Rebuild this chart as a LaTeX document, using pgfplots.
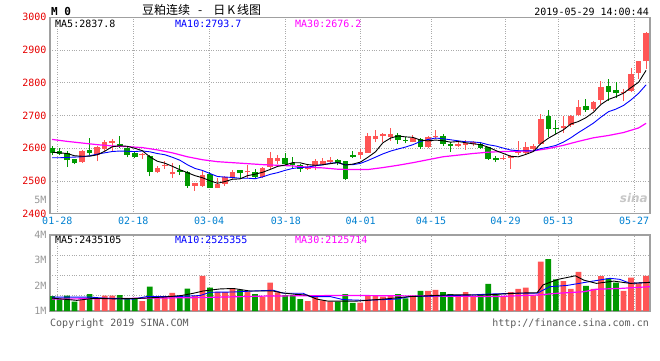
\documentclass[border=0pt]{standalone}
\usepackage{pgfplots}
\pgfplotsset{compat=1.18}
\usepackage{pgfplotstable}
\usepackage{fontspec}
\setmainfont{DejaVu Sans Mono}
\newfontfamily\cjk{Noto Sans CJK SC}
\newfontfamily\dsans{DejaVu Sans}
\definecolor{cred}{RGB}{255,85,85}
\definecolor{cgreen}{RGB}{0,153,0}
\definecolor{framec}{RGB}{160,160,160}
\definecolor{gridc}{RGB}{170,170,170}
\definecolor{tickred}{RGB}{230,0,0}
\definecolor{dateblue}{RGB}{0,128,208}
\definecolor{mag}{RGB}{255,0,255}
\definecolor{lblgray}{RGB}{150,150,150}
\definecolor{footgray}{RGB}{90,90,90}

% red (rising) candles: index open high low close
\pgfplotstableread{
i o h l c
4 2557 2594 2555 2592
6 2578 2608 2560 2603
7 2598 2625 2593 2618
8 2616 2628 2593 2623
12 2578 2585 2568 2581
14 2526 2546 2524 2539
15 2545 2560 2537 2550
16 2520 2555 2508 2526
19 2486 2495 2470 2493
20 2486 2533 2483 2518
22 2480 2508 2478 2490
23 2491 2516 2486 2511
24 2508 2533 2506 2528
26 2526 2548 2508 2530
28 2512 2543 2508 2540
29 2543 2588 2538 2571
30 2562 2578 2553 2570
34 2538 2553 2533 2543
35 2545 2568 2533 2560
36 2553 2570 2548 2560
37 2558 2573 2553 2563
41 2578 2598 2568 2590
42 2586 2646 2586 2637
43 2628 2655 2618 2638
44 2636 2648 2618 2645
45 2634 2663 2623 2644
48 2620 2640 2618 2630
50 2603 2636 2600 2633
51 2634 2655 2628 2636
54 2608 2623 2603 2613
55 2611 2625 2596 2615
56 2613 2621 2608 2618
60 2567 2578 2563 2570
61 2570 2578 2538 2575
62 2586 2623 2578 2593
63 2585 2620 2583 2605
64 2598 2613 2592 2607
65 2612 2705 2610 2690
68 2661 2697 2646 2668
69 2671 2702 2666 2697
70 2702 2748 2697 2727
72 2720 2745 2715 2741
73 2748 2806 2735 2787
76 2768 2781 2745 2770
77 2775 2846 2771 2827
78 2829 2867 2812 2867
79 2865 2956 2842 2951
}\redtab

% green (falling) candles
\pgfplotstableread{
i o h l c
0 2601 2608 2578 2586
1 2593 2600 2578 2583
2 2586 2591 2542 2563
3 2566 2568 2551 2554
5 2595 2631 2578 2587
9 2614 2636 2601 2606
10 2600 2608 2572 2580
11 2585 2590 2570 2573
13 2575 2580 2514 2529
17 2534 2550 2518 2528
18 2528 2530 2480 2485
21 2521 2526 2478 2480
25 2535 2535 2508 2523
27 2529 2538 2508 2512
31 2571 2585 2548 2551
32 2556 2573 2538 2548
33 2550 2553 2528 2538
38 2564 2568 2548 2556
39 2560 2561 2503 2505
40 2579 2592 2570 2574
46 2640 2648 2613 2624
47 2626 2633 2615 2623
49 2628 2630 2598 2603
52 2636 2643 2608 2613
53 2613 2620 2590 2608
57 2613 2618 2598 2602
58 2603 2605 2565 2568
59 2570 2576 2558 2563
66 2697 2717 2633 2658
67 2660 2687 2645 2658
71 2730 2751 2712 2717
74 2790 2812 2745 2773
75 2778 2801 2753 2770
}\greentab

% price moving averages
\pgfplotstableread{
i ma5 ma10
0 2588 2571
1 2586 2571
2 2584 2572
3 2577 2573
4 2575.6 2574
5 2575.8 2577
6 2579.8 2582
7 2590.8 2586
8 2604.6 2590
9 2607.4 2591.5
10 2606 2590.9
11 2600 2589.9
12 2592.6 2591.7
13 2573.8 2589.2
14 2560.4 2583.9
15 2554.4 2580.2
16 2545 2572.5
17 2534.4 2563.5
18 2525.6 2549.7
19 2516.4 2538.4
20 2510 2532.2
21 2500.8 2522.9
22 2493.2 2513.8
23 2498.4 2512
24 2505.4 2510.9
25 2506.4 2508.2
26 2516.4 2508.6
27 2520.8 2507
28 2526.6 2512.5
29 2535.2 2520.3
30 2544.6 2525.5
31 2548.8 2532.6
32 2556 2538.4
33 2555.6 2541.1
34 2550 2542.6
35 2548 2546.3
36 2549.8 2549.3
37 2552.8 2554.4
38 2556.4 2556
39 2548.8 2549.4
40 2551.6 2549.8
41 2557.6 2553.7
42 2572.4 2562.6
43 2588.8 2572.6
44 2616.8 2582.8
45 2630.8 2591.2
46 2637.6 2597.6
47 2634.8 2603.6
48 2633.2 2611
49 2624.8 2620.8
50 2622.6 2626.7
51 2625 2631.3
52 2623 2628.9
53 2618.6 2625.9
54 2620.6 2622.7
55 2617 2619.8
56 2613.4 2619.2
57 2611.2 2617.1
58 2603.2 2610.9
59 2593.2 2606.9
60 2584.2 2600.6
61 2575.6 2594.5
62 2573.8 2592.5
63 2581.2 2592.2
64 2590 2591.6
65 2614 2599.1
66 2630.6 2603.1
67 2643.6 2608.7
68 2656.2 2618.7
69 2674.2 2632.1
70 2681.6 2647.8
71 2693.4 2662
72 2710 2676.8
73 2733.8 2695
74 2749 2711.6
75 2757.6 2719.6
76 2768.2 2730.8
77 2785.4 2747.7
78 2801.4 2767.6
79 2837.8 2793.7
}\matab

\pgfplotstableread{
i ma30
0 2627
2 2621
4 2616
6 2611
8 2607
10 2605
12 2602
14 2595
16 2586
18 2574
20 2565
22 2559
24 2556
26 2553
28 2550
30 2548
32 2546
34 2542
36 2540
38 2536
40 2535
42 2535
44 2541
46 2548
48 2556
50 2565
52 2574
54 2579
56 2584
58 2588
60 2590
62 2591
64 2592
66 2599
68 2609
70 2621
72 2632
74 2639
76 2648
78 2662
79 2676.2
}\mathirty

% volumes (millions)
\pgfplotstableread{
i v
4 1.43
6 1.47
7 1.61
8 1.61
12 1.39
14 1.53
15 1.57
16 1.72
19 1.59
20 2.39
22 1.76
23 1.75
24 1.89
26 1.76
28 1.57
29 2.12
30 1.74
34 1.39
35 1.61
36 1.42
37 1.37
41 1.33
42 1.63
43 1.59
44 1.57
45 1.61
48 1.61
50 1.79
51 1.83
54 1.57
55 1.75
56 1.57
60 1.57
61 1.75
62 1.87
63 1.92
64 1.61
65 2.95
68 2.18
69 1.87
70 2.54
72 1.87
73 2.38
76 1.79
77 2.32
78 2.09
79 2.39
}\volred

\pgfplotstableread{
i v
0 1.59
1 1.47
2 1.61
3 1.37
5 1.67
9 1.63
10 1.47
11 1.50
13 1.96
17 1.61
18 1.88
21 1.92
25 1.83
27 1.67
31 1.63
32 1.63
33 1.47
38 1.37
39 1.67
40 1.32
46 1.67
47 1.50
49 1.79
52 1.75
53 1.67
57 1.67
58 2.07
59 1.67
66 3.05
67 2.25
71 1.99
74 2.29
75 2.12
}\volgreen

\pgfplotsset{
  kbase/.style={
    scale only axis, width=600pt,
    xmin=-0.27, xmax=79.52,
    axis line style={draw=framec, line width=1.3pt},
    xtick={0.7,10.8,20.9,31.1,41.05,50.4,60.3,67.3,77.4},
    xmajorgrids, ymajorgrids,
    grid style={draw=gridc, dotted, line width=0.9pt},
    major tick length=0pt,
    tick style={draw=none},
    /pgf/number format/assume math mode=true,
    /pgf/number format/1000 sep={},
    ticklabel style={font=\fontsize{10pt}{10pt}\selectfont},
  },
  candle/.style 2 args={draw=none, mark=none, forget plot,
    error bars/.cd, y dir=plus, y explicit, error mark=none,
    error bar style={line width=#1, draw=#2}},
}
\tikzset{txt/.style={inner sep=0pt, font=\fontsize{10pt}{10pt}\selectfont}}

\begin{document}
\begin{tikzpicture}
\path[use as bounding box] (0,0) rectangle (660pt,360pt);

% ---------- price panel ----------
\begin{axis}[kbase, at={(50pt,146.25pt)}, anchor=south west, height=196.5pt,
  ymin=2400, ymax=3000, ytick={2400,2500,...,3000},
  yticklabel style={text=tickred},
  xticklabels={01-28,02-18,03-04,03-18,04-01,04-15,04-29,05-13,05-27},
  xticklabel style={text=dateblue},
]
% wicks
\addplot[candle={1pt}{cred}]
  table[x=i, y=l, y error expr=\thisrow{h}-\thisrow{l}] {\redtab};
\addplot[candle={1pt}{cgreen}]
  table[x=i, y=l, y error expr=\thisrow{h}-\thisrow{l}] {\greentab};
% bodies
\addplot[candle={5.6pt}{cred}]
  table[x=i, y=o, y error expr={max(\thisrow{c}-\thisrow{o},3)}] {\redtab};
\addplot[candle={5.6pt}{cgreen}]
  table[x=i, y=c, y error expr={max(\thisrow{o}-\thisrow{c},3)}] {\greentab};
% moving averages
\addplot[mag, line width=1.2pt, mark=none] table[x=i, y=ma30] {\mathirty};
\addplot[blue, line width=0.9pt, mark=none] table[x=i, y=ma10] {\matab};
\addplot[black, line width=0.9pt, mark=none] table[x=i, y=ma5] {\matab};
\end{axis}

% ---------- volume panel ----------
\begin{axis}[kbase, at={(50pt,49pt)}, anchor=south west, height=76pt,
  ymin=1, ymax=4, ytick={1,2,3,4}, yticklabels={1M,2M,3M,4M},
  yticklabel style={text=lblgray},
  xticklabels={},
  ymajorgrids=false,
  extra y ticks={1.6,2.42,3.21}, extra y tick labels={},
  extra y tick style={grid=major},
]
\addplot[ybar, bar width=5.7pt, bar shift=0pt, fill=cred, draw=none]
  table[x=i, y=v] {\volred};
\addplot[ybar, bar width=5.7pt, bar shift=0pt, fill=cgreen, draw=none]
  table[x=i, y=v] {\volgreen};
\addplot[mag, line width=1.2pt, mark=none] coordinates {
(0,1.47) (10.8,1.50) (19.7,1.53) (28.5,1.59) (37,1.61) (41.4,1.61) (50.3,1.59)
(59.1,1.57) (64.5,1.63) (67.2,1.70) (70.7,1.76) (72.4,1.86) (75.5,1.89) (79.5,1.96)};
\addplot[blue, line width=0.9pt, mark=none] coordinates {
(0,1.55) (5,1.55) (7.3,1.50) (10.8,1.47) (12.6,1.57) (16.6,1.57) (19.7,1.61)
(21,1.74) (24.1,1.75) (26.8,1.79) (29.4,1.82) (30.8,1.70) (33.4,1.70) (34.3,1.57)
(37,1.57) (38.7,1.45) (41.4,1.42) (45.8,1.47) (47.6,1.57) (50.7,1.59) (55.6,1.63)
(58.2,1.67) (61.8,1.70) (64.5,1.70) (66.2,1.96) (68.5,2.01) (71.5,2.16) (74.2,2.29)
(75.5,2.25) (76.9,2.09) (79.5,2.13)};
\addplot[black, line width=0.9pt, mark=none] coordinates {
(0,1.51) (3.3,1.42) (5.5,1.50) (8.2,1.48) (11.7,1.50) (14.8,1.55) (17.2,1.61)
(18.8,1.70) (20.1,1.79) (22.3,1.87) (24.1,1.89) (26.3,1.79) (29.4,1.79) (30.5,1.72)
(32.3,1.66) (33.9,1.63) (35.2,1.47) (36.7,1.39) (38.3,1.39) (40.5,1.39) (44.1,1.47)
(47.6,1.57) (53,1.64) (57.4,1.63) (62.2,1.71) (64.5,1.72) (65.3,2.03) (67.3,2.25)
(69.6,2.39) (70.7,2.22) (72.4,2.09) (74.7,2.18) (76.9,2.09) (79.5,2.13)};
\end{axis}

% ---------- texts ----------
\node[txt, anchor=west, font=\fontsize{11pt}{11pt}\selectfont\bfseries] at (51pt,349pt) {M 0};
\node[inner sep=0pt, anchor=west, font=\cjk\fontsize{12pt}{12pt}\selectfont] at (142pt,350pt)
  {豆粕连续\hspace{8pt}-\hspace{11pt}日\hspace{2pt}K\hspace{2pt}线图};
\node[txt, anchor=east] at (649pt,348.5pt) {2019-05-29 14:00:44};

\node[txt, anchor=west] at (55pt,336pt) {MA5:2837.8};
\node[txt, anchor=west, text=blue] at (175pt,336pt) {MA10:2793.7};
\node[txt, anchor=west, text=mag] at (295pt,336pt) {MA30:2676.2};

\node[txt, anchor=west] at (55pt,120.5pt) {MA5:2435105};
\node[txt, anchor=west, text=blue] at (175pt,120.5pt) {MA10:2525355};
\node[txt, anchor=west, text=mag] at (295pt,120.5pt) {MA30:2125714};

\node[txt, anchor=east, text=lblgray] at (46.7pt,160pt) {5M};

\node[txt, anchor=west, text=footgray] at (50pt,36pt) {Copyright 2019 SINA.COM};
\node[txt, anchor=east, text=footgray] at (649pt,36pt) {http://finance.sina.com.cn};

\node[inner sep=0pt, anchor=east, text=black!22, font=\dsans\bfseries\itshape\fontsize{12pt}{12pt}\selectfont] at (648pt,162pt) {sina};
\end{tikzpicture}
\end{document}
